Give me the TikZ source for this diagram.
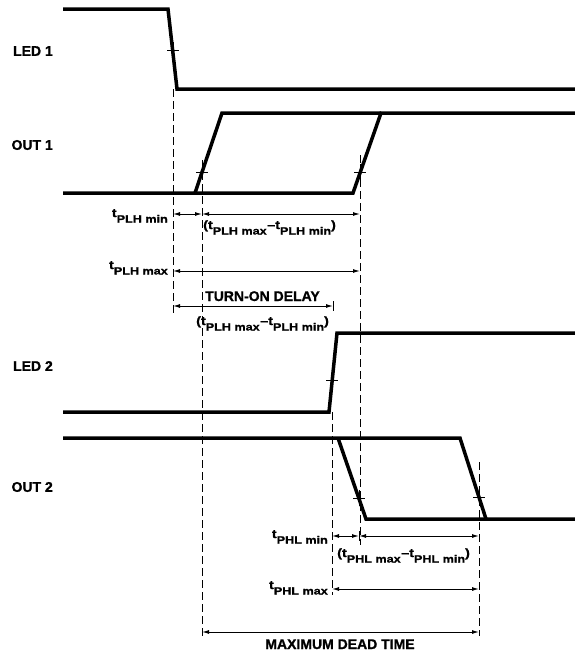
\documentclass[tikz,border=0pt]{standalone}
\usepackage{fontspec}
\setmainfont{Liberation Sans}[BoldFeatures={FakeBold=1.2}]
\newfontfamily\subfont{Liberation Sans}[FakeStretch=1.2,BoldFeatures={FakeBold=1.0}]
\usetikzlibrary{arrows.meta}
\newcommand{\tsub}[2]{{\subfont\bfseries\fontsize{12}{12}\selectfont t\raisebox{-5.5pt}{\fontsize{10.5}{10.5}\selectfont #1 #2}}}
\newcommand{\tdiff}[1]{{\subfont\bfseries\fontsize{12}{12}\selectfont (\tsub{#1}{max}\hspace{0.5pt}–\tsub{#1}{min})}}
\tikzset{
  wave/.style={line width=3.5pt, line join=miter},
  guide/.style={line width=0.8pt, dash pattern=on 8pt off 4pt},
  dim/.style={line width=1pt, {Latex[length=7pt,width=4pt]}-{Latex[length=7pt,width=4pt]}},
  lbl/.style={font=\bfseries\fontsize{14}{14}\selectfont, inner sep=0pt},
  txt/.style={inner sep=0pt},
  tick/.style={line width=1pt}
}
\begin{document}
\begin{tikzpicture}[x=1pt,y=-1pt]
\useasboundingbox (0,0) rectangle (575,654);

% signal names
\node[lbl,anchor=east] (led1) at (53,51) {LED 1};
\node[lbl,anchor=east] (out1) at (53,145) {OUT 1};
\node[lbl,anchor=east] (led2) at (53,366) {LED 2};
\node[lbl,anchor=east] (out2) at (53,487) {OUT 2};

% waveforms
\draw[wave] (63,9)--(168,9)--(177,89)--(575,89);
\draw[wave] (63,193)--(353,193)--(381,113)--(575,113);
\draw[wave] (195,193)--(222,113)--(381,113);
\draw[wave] (63,412)--(329,412)--(337,333)--(575,333);
\draw[wave] (63,438)--(460,438)--(486,519)--(575,519);
\draw[wave] (338,438)--(366,519)--(486,519);

% tick marks on edges
\foreach \x/\y in {173/50, 202/172, 360/172, 332/380, 359/498, 479/497}{
  \draw[tick] (\x-6,\y)--(\x+6,\y);
  \draw[tick] (\x,\y-8)--(\x,\y+8);
}

% dashed guides
\coordinate (g1t) at (173,89);  \coordinate (g1b) at (173,315);
\coordinate (g2t) at (202,160); \coordinate (g2b) at (202,638);
\coordinate (g3t) at (360,155); \coordinate (g3b) at (360,545);
\coordinate (g4t) at (332,412); \coordinate (g4b) at (332,595);
\coordinate (g5t) at (479,462); \coordinate (g5b) at (479,636);
\draw[guide] (g1t)--(g1b);
\draw[guide] (g2t)--(g2b);
\draw[guide] (g3t)--(g3b);
\draw[guide] (g4t)--(g4b);
\draw[guide] (g5t)--(g5b);

% dimension arrows
\draw[dim] (173,214)--(202,214);
\draw[dim] (202,214)--(360,214);
\draw[dim] (173,271)--(360,271);
\draw[dim] (173,306)--(333,306);
\draw[tick] (333,301)--(333,311);
\draw[dim] (332,536)--(359,536);
\draw[tick] (359,531)--(359,541);
\draw[dim] (359,536)--(479,536);
\draw[dim] (332,589)--(479,589);
\draw[dim] (202,632)--(479,632);

% dimension labels
\node[txt,anchor=base east] (plhmin) at (168,217) {\tsub{PLH}{min}};
\node[txt,anchor=base east] (plhmax) at (168,269) {\tsub{PLH}{max}};
\node[txt,anchor=base west] (plhd1) at (203,229) {\tdiff{PLH}};
\node[lbl,anchor=base west] (ton) at (205,301) {TURN-ON DELAY};
\node[txt,anchor=base west] (plhd2) at (196,325) {\tdiff{PLH}};
\node[txt,anchor=base east] (phlmin) at (328,538) {\tsub{PHL}{min}};
\node[txt,anchor=base west] (phld) at (337,557) {\tdiff{PHL}};
\node[txt,anchor=base east] (phlmax) at (328,589) {\tsub{PHL}{max}};
\node[lbl,anchor=base] (mdt) at (340,649) {MAXIMUM DEAD TIME};
\end{tikzpicture}
\end{document}
